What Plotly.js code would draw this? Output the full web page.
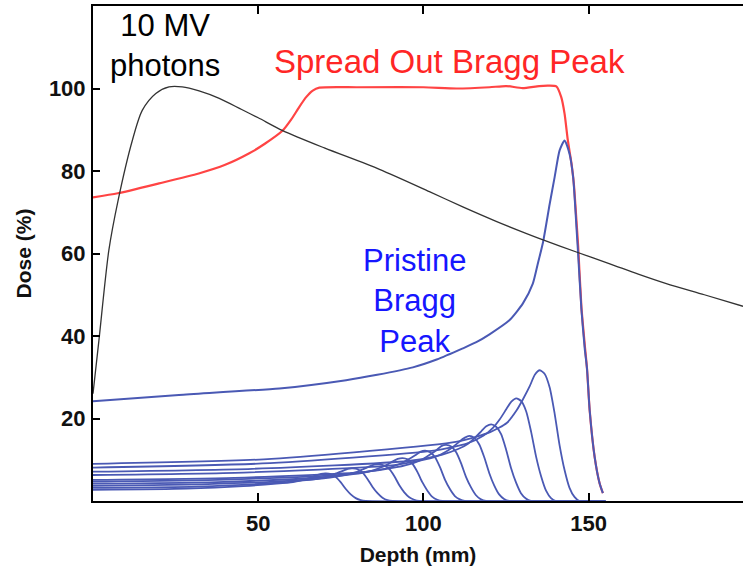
<!DOCTYPE html>
<html>
<head>
<meta charset="utf-8">
<script src="https://cdn.plot.ly/plotly-3.0.1.min.js"></script>
<style>html,body{margin:0;padding:0;background:#fff;}#chart{width:743px;height:575px;}</style>
</head>
<body>
<div id="chart"></div>
<script>
// ---- Data ----
const photonDepth = [0, 1.8, 4.8, 7.6, 11.9, 14.9, 19, 23, 27, 32.1, 38.2, 45, 50, 57.4, 70, 86.7, 101.8, 111.9, 122, 129.1, 136.2, 146.5, 156.4, 165, 173.5, 185, 196.7];
const photonDose  = [26, 39, 60.8, 72.9, 87.4, 94.7, 98.8, 100.4, 100.4, 99.4, 97.6, 94.9, 92.9, 89.8, 85.6, 80.4, 75.0, 71.3, 67.8, 65.5, 63.3, 60.3, 57.5, 55.0, 52.7, 50, 47.2];

const sobpDepth = [0, 7.5, 20, 32, 40, 47.3, 52, 57.4, 60, 62.4, 64.5, 66.5, 68.5, 80, 100, 110, 120, 125, 130, 135, 138, 140.2, 141.7, 142.7, 143.7, 144.8, 145.5, 146.3, 146.8, 147.8, 148.8, 149.5, 150.3, 151.8, 153.3, 154.3];
const sobpDose  = [73.6, 74.6, 77, 79.4, 81.5, 84.3, 86.6, 89.8, 92.5, 95.5, 97.9, 99.5, 100.2, 100.3, 100.3, 100.0, 100.3, 100.6, 100.1, 100.6, 100.7, 100.5, 97.9, 93.9, 87.4, 81.8, 77, 68, 62, 47, 38, 32, 22, 10.7, 4.3, 1.9];

const pristineDepth = [0, 26, 56.4, 76.6, 86, 96.8, 104, 111.9, 116, 120, 126, 130.1, 133.1, 134.6, 136.2, 138.2, 139.7, 141.2, 142.7, 144.2, 145.3, 146.3, 146.8, 147.8, 148.8, 149.5, 150.3, 151.8, 153.3, 154.3];
const pristineDose  = [24.2, 25.7, 27.3, 29.3, 30.6, 32.4, 34.3, 37.0, 38.5, 40.4, 43.8, 47.9, 52.7, 57.5, 62.8, 72.0, 78.5, 85.0, 87.4, 84.2, 78.5, 66.4, 60, 46.5, 37, 32, 22, 10.7, 4.3, 1.9];

// Smaller (shallower, weighted) pristine peaks that build the SOBP
const peak1Depth  = [0, 54, 110.2, 120.2, 125.2, 128.2, 130.2, 132.2, 133.7, 135.2, 136.7, 138.2, 139.7, 141.2, 142.7, 144.2, 145.7, 147.2, 155];
const peak1Dose   = [9.0, 10.2, 14.4, 16.7, 18.9, 22.0, 24.8, 27.9, 30.6, 31.7, 30.8, 27.5, 21.2, 13.5, 7.5, 3.2, 1.0, 0, 0];
const peak2Depth  = [0, 51.2, 103.1, 113.1, 118.1, 121.1, 123.1, 125.1, 126.6, 128.1, 129.6, 131.1, 132.6, 134.1, 135.6, 137.1, 138.6, 140.1, 155];
const peak2Dose   = [8.1, 9.1, 12.2, 13.9, 15.8, 17.8, 19.8, 22.3, 24.1, 24.9, 24.2, 21.7, 16.7, 10.7, 6.0, 2.5, 0.7, 0, 0];
const peak3Depth  = [0, 48.2, 95.5, 105.5, 110.5, 113.5, 115.5, 117.5, 119, 120.5, 122, 123.5, 125, 126.5, 128, 129.5, 131, 132.5, 155];
const peak3Dose   = [7.1, 7.8, 9.7, 11.2, 12.6, 13.9, 15.3, 16.9, 18.1, 18.6, 18.0, 16.2, 12.5, 8.0, 4.5, 1.9, 0.6, 0, 0];
const peak4Depth  = [0, 45.6, 88.9, 98.9, 103.9, 106.9, 108.9, 110.9, 112.4, 113.9, 115.4, 116.9, 118.4, 119.9, 121.4, 122.9, 124.4, 125.9, 155];
const peak4Dose   = [6.3, 6.9, 8.5, 9.8, 10.8, 12.0, 13.1, 14.4, 15.3, 15.8, 15.3, 13.7, 10.6, 6.8, 3.8, 1.6, 0.5, 0, 0];
const peak5Depth  = [0, 42.8, 81.9, 91.9, 96.9, 99.9, 101.9, 103.9, 105.4, 106.9, 108.4, 109.9, 111.4, 112.9, 114.4, 115.9, 117.4, 118.9, 155];
const peak5Dose   = [5.1, 5.6, 7.0, 8.2, 9.2, 10.2, 11.2, 12.3, 13.3, 13.6, 13.2, 11.8, 9.1, 5.8, 3.3, 1.4, 0.4, 0, 0];
const peak6Depth  = [0, 40.2, 75.5, 85.5, 90.5, 93.5, 95.5, 97.5, 99, 100.5, 102, 103.5, 105, 106.5, 108, 109.5, 111, 112.5, 155];
const peak6Dose   = [4.7, 5.2, 6.4, 7.4, 8.3, 9.2, 10.1, 11.1, 11.9, 12.2, 11.8, 10.6, 8.2, 5.2, 2.9, 1.2, 0.4, 0, 0];
const peak7Depth  = [0, 37.5, 68.7, 78.7, 83.7, 86.7, 88.7, 90.7, 92.2, 93.7, 95.2, 96.7, 98.2, 99.7, 101.2, 102.7, 104.2, 105.7, 155];
const peak7Dose   = [4.2, 4.6, 5.7, 6.5, 7.2, 8.0, 8.7, 9.6, 10.2, 10.4, 10.1, 9.0, 7.0, 4.5, 2.5, 1.0, 0.3, 0, 0];
const peak8Depth  = [0, 34.7, 61.7, 71.7, 76.7, 79.7, 81.7, 83.7, 85.2, 86.7, 88.2, 89.7, 91.2, 92.7, 94.2, 95.7, 97.2, 98.7, 155];
const peak8Dose   = [3.7, 4.1, 5.0, 5.7, 6.4, 7.0, 7.7, 8.4, 8.8, 8.9, 8.6, 7.7, 6.0, 3.8, 2.1, 0.9, 0.3, 0, 0];
const peak9Depth  = [0, 31.4, 53.6, 63.6, 68.6, 71.6, 73.6, 75.6, 77.1, 78.6, 80.1, 81.6, 83.1, 84.6, 86.1, 87.6, 89.1, 90.6, 155];
const peak9Dose   = [3.2, 3.5, 4.3, 5.0, 5.5, 6.1, 6.7, 7.3, 7.8, 7.9, 7.7, 6.9, 5.3, 3.4, 1.9, 0.8, 0.2, 0, 0];
const peak10Depth = [0, 28.2, 45.5, 55.5, 60.5, 63.5, 65.5, 67.5, 69, 70.5, 72, 73.5, 75, 76.5, 78, 79.5, 81, 82.5, 155];
const peak10Dose  = [2.7, 3.0, 3.6, 4.2, 4.6, 5.1, 5.6, 6.2, 6.6, 6.7, 6.5, 5.8, 4.5, 2.9, 1.6, 0.7, 0.2, 0, 0];

const xTickVals = [50, 100, 150];
const yTickVals = [20, 40, 60, 80, 100];
const xTitle = 'Depth (mm)';
const yTitle = 'Dose (%)';
const photonLabel = '10 MV<br>photons';
const sobpLabel = 'Spread Out Bragg Peak';
const pristineLabel = 'Pristine<br>Bragg<br>Peak';

// ---- Traces ----
const BLUE = '#4a59b4';
const RED = '#ff4444';
const smallPeaks = [
  [peak1Depth, peak1Dose], [peak2Depth, peak2Dose], [peak3Depth, peak3Dose],
  [peak4Depth, peak4Dose], [peak5Depth, peak5Dose], [peak6Depth, peak6Dose],
  [peak7Depth, peak7Dose], [peak8Depth, peak8Dose], [peak9Depth, peak9Dose],
  [peak10Depth, peak10Dose]
];

const traces = [];
traces.push({x: sobpDepth, y: sobpDose, mode: 'lines', line: {color: RED, width: 2.2, shape: 'spline', smoothing: 0.6}, hoverinfo: 'skip'});
smallPeaks.forEach(p => traces.push({x: p[0], y: p[1], mode: 'lines', line: {color: BLUE, width: 1.8, shape: 'spline', smoothing: 0.6}, hoverinfo: 'skip'}));
traces.push({x: pristineDepth, y: pristineDose, mode: 'lines', line: {color: BLUE, width: 2, shape: 'spline', smoothing: 0.6}, hoverinfo: 'skip'});
traces.push({x: photonDepth, y: photonDose, mode: 'lines', line: {color: '#333333', width: 1.3, shape: 'spline', smoothing: 0.8}, hoverinfo: 'skip'});

const FONT = 'Liberation Sans, Arial, Helvetica, sans-serif';

const layout = {
  width: 743, height: 575,
  margin: {l: 93, r: 0, t: 6, b: 74, pad: 0},
  paper_bgcolor: '#ffffff', plot_bgcolor: '#ffffff',
  showlegend: false,
  font: {family: FONT, color: '#111'},
  xaxis: {
    range: [0, 196.7], tickvals: xTickVals, ticktext: xTickVals.map(String),
    ticks: 'inside', ticklen: 8, tickwidth: 2, tickcolor: '#000',
    showline: true, linecolor: '#000', linewidth: 2, mirror: 'ticks',
    showgrid: false, zeroline: false,
    tickfont: {family: FONT, size: 22, color: '#111', weight: 'bold'},
    ticklabelstandoff: 2,
    title: {text: '<b>' + xTitle + '</b>', font: {family: FONT, size: 21, color: '#111'}, standoff: 12}
  },
  yaxis: {
    range: [0, 120], tickvals: yTickVals, ticktext: yTickVals.map(String),
    ticks: 'inside', ticklen: 7, tickwidth: 2, tickcolor: '#000',
    showline: true, linecolor: '#000', linewidth: 2,
    showgrid: false, zeroline: false,
    tickfont: {family: FONT, size: 22, color: '#111', weight: 'bold'},
    ticklabelstandoff: 1,
    title: {text: '<b>' + yTitle + '</b>', font: {family: FONT, size: 21, color: '#111'}, standoff: 12}
  },
  annotations: [
    {x: 21.8, y: 110.5, xref: 'x', yref: 'y', text: photonLabel, showarrow: false,
     font: {family: FONT, size: 31, color: '#000'}, xanchor: 'center', yanchor: 'middle', align: 'center'},
    {x: 107.9, y: 106.6, xref: 'x', yref: 'y', text: sobpLabel, showarrow: false,
     font: {family: FONT, size: 33, color: '#ff2626'}, xanchor: 'center', yanchor: 'middle'},
    {x: 97.3, y: 48.5, xref: 'x', yref: 'y', text: pristineLabel, showarrow: false,
     font: {family: FONT, size: 31, color: '#1616ff'}, xanchor: 'center', yanchor: 'middle', align: 'center'}
  ]
};

Plotly.newPlot('chart', traces, layout, {displayModeBar: false, staticPlot: true});
</script>
</body>
</html>
